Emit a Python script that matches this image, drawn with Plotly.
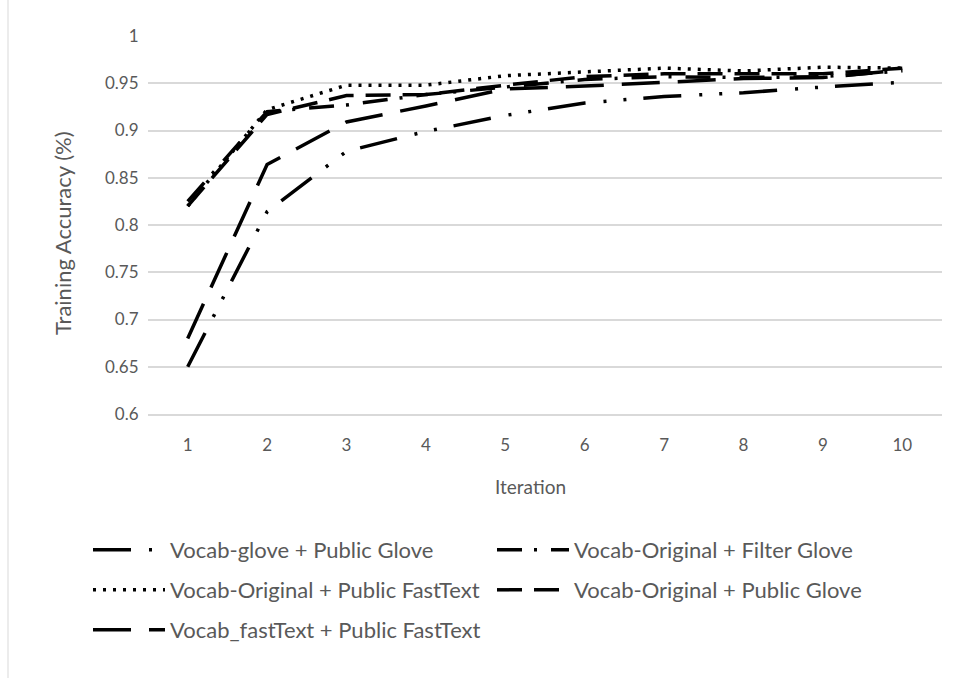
import plotly.graph_objects as go

iterations = [1, 2, 3, 4, 5, 6, 7, 8, 9, 10]

vocab_glove_public_glove = [0.65, 0.814, 0.878, 0.899, 0.916, 0.929, 0.936, 0.940, 0.946, 0.951]
vocab_original_filter_glove = [0.825, 0.920, 0.927, 0.938, 0.946, 0.954, 0.957, 0.956, 0.957, 0.963]
vocab_original_public_fasttext = [0.820, 0.922, 0.948, 0.948, 0.958, 0.962, 0.966, 0.963, 0.967, 0.966]
vocab_original_public_glove = [0.820, 0.917, 0.937, 0.938, 0.948, 0.957, 0.960, 0.960, 0.960, 0.966]
vocab_fasttext_public_fasttext = [0.680, 0.864, 0.909, 0.926, 0.944, 0.947, 0.951, 0.955, 0.956, 0.964]

series_names = [
    "Vocab-glove + Public Glove",
    "Vocab-Original + Filter Glove",
    "Vocab-Original + Public FastText",
    "Vocab-Original + Public Glove",
    "Vocab_fastText + Public FastText",
]

y_tick_values = [0.6, 0.65, 0.7, 0.75, 0.8, 0.85, 0.9, 0.95, 1.0]
y_tick_labels = ["0.6", "0.65", "0.7", "0.75", "0.8", "0.85", "0.9", "0.95", "1"]
x_tick_labels = ["1", "2", "3", "4", "5", "6", "7", "8", "9", "10"]

x_title = "Iteration"
y_title = "Training Accuracy (%)"

series_values = [
    vocab_glove_public_glove,
    vocab_original_filter_glove,
    vocab_original_public_fasttext,
    vocab_original_public_glove,
    vocab_fasttext_public_fasttext,
]
dashes = [
    "38px,18px,3px,17px,3px,17px",
    "25px,12px,3px,14px",
    "3px,7px",
    "25px,12px",
    "38px,18px",
]

TEXT = "#595959"
GRID = "#d9d9d9"
FONT = "Lato, Carlito, 'Liberation Sans', sans-serif"

# plot-area geometry in pixels
W, H = 958, 678
PL, PR, PT, PB = 148, 942, 36, 414
PW, PH = PR - PL, PB - PT


def px(x):
    return (x - PL) / PW


def py(y):
    return (PB - y) / PH


# legend slots: (legend id, left px of sample, row centre px)
legend_slots = [
    ("legend", 88, 550),
    ("legend2", 492, 550),
    ("legend3", 88, 590),
    ("legend4", 492, 590),
    ("legend5", 88, 630),
]

fig = go.Figure()
for name, vals, dash, slot in zip(series_names, series_values, dashes, legend_slots):
    fig.add_trace(go.Scatter(
        x=iterations, y=vals, name=name, mode="lines",
        line=dict(color="#000000", width=3.5, dash=dash),
        legend=slot[0],
    ))

layout_legends = {}
for lid, lx, ly in legend_slots:
    layout_legends[lid] = dict(
        x=px(lx), y=py(ly), xanchor="left", yanchor="middle",
        orientation="h", itemwidth=72,
        font=dict(size=22, color=TEXT, family=FONT),
        bgcolor="rgba(0,0,0,0)", borderwidth=0,
        itemclick=False, itemdoubleclick=False,
    )

fig.update_layout(
    width=W, height=H,
    margin=dict(l=PL, r=W - PR, t=PT, b=H - PB, autoexpand=False),
    paper_bgcolor="white", plot_bgcolor="white",
    font=dict(family=FONT, color=TEXT, size=17),
    showlegend=True,
    xaxis=dict(
        range=[0.5, 10.5],
        tickvals=iterations, ticktext=x_tick_labels,
        showgrid=False, zeroline=False,
        showline=True, linecolor=GRID, linewidth=1.5,
        ticks="outside", ticklen=15, tickcolor="rgba(0,0,0,0)",
        tickfont=dict(size=17, color=TEXT),
    ),
    yaxis=dict(
        range=[0.6, 1.0],
        tickvals=y_tick_values, ticktext=y_tick_labels,
        showgrid=True, gridcolor=GRID, gridwidth=1.5,
        zeroline=False, showline=False,
        ticks="outside", ticklen=5, tickcolor="rgba(0,0,0,0)",
        tickfont=dict(size=17, color=TEXT),
    ),
    annotations=[
        dict(text=x_title, xref="paper", yref="paper", x=px(530), y=py(486),
             xanchor="center", yanchor="middle", showarrow=False,
             font=dict(size=19, color=TEXT, family=FONT)),
        dict(text=y_title, xref="paper", yref="paper", x=px(62), y=py(233),
             xanchor="center", yanchor="middle", showarrow=False, textangle=-90,
             font=dict(size=22, color=TEXT, family=FONT)),
    ],
    shapes=[dict(
        type="rect", xref="paper", yref="paper",
        x0=px(8), x1=px(975), y0=py(690), y1=py(-40),
        line=dict(color=GRID, width=1), fillcolor="rgba(0,0,0,0)", layer="below",
    )],
    **layout_legends,
)

fig.write_html("out.html")
